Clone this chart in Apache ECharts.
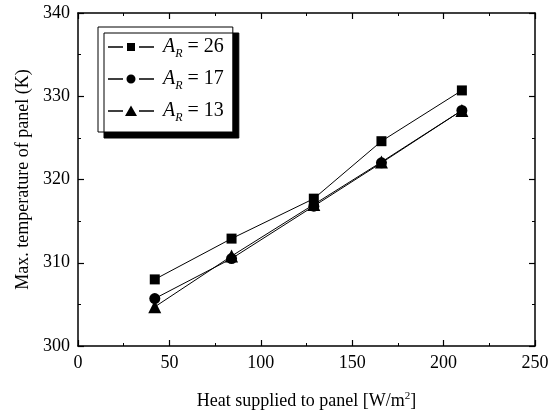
<!DOCTYPE html>
<html>
<head>
<meta charset="utf-8">
<script src="https://cdn.jsdelivr.net/npm/echarts@6/dist/echarts.min.js"></script>
<style>
  html, body { margin: 0; padding: 0; background: #fff; }
  #chart { width: 558px; height: 416px; }
</style>
</head>
<body>
<div id="chart"></div>
<script>
// heat supplied [W/m2]
const heat = [42, 84, 129, 166, 210];
// max. panel temperature [K] per aspect ratio
const tempAR26 = [308.0, 312.9, 317.7, 324.6, 330.7];
const tempAR17 = [305.7, 310.5, 316.8, 322.0, 328.3];
const tempAR13 = [304.7, 310.8, 317.0, 322.1, 328.3];
const seriesNames = ['26', '17', '13'];
const symbols = ['rect', 'circle', 'triangle'];
const symbolSizes = [10, 11, 13];

const chart = echarts.init(document.getElementById('chart'));
const font = 'Liberation Serif';

// legend icons: line - gap - marker - gap - line, in a 46x12 box
const iconLines = 'M0,0M46,12M0,5.3h15v1.4h-15zM31,5.3h15v1.4h-15z';
const legendIcons = [
    'path://' + iconLines + 'M19,2h8v8h-8z',
    'path://' + iconLines + 'M18.5,6a4.5,4.5 0 1,0 9,0a4.5,4.5 0 1,0 -9,0z',
    'path://' + iconLines + 'M23,0.5L29,11L17,11z'
];

function pairs(ys) {
    return heat.map((x, i) => [x, ys[i]]);
}

function axisStyle(showLabel) {
    return {
        axisLine: { show: true, onZero: false, lineStyle: { color: '#000', width: 1.5 } },
        axisTick: { show: true, inside: true, length: 6, lineStyle: { color: '#000', width: 1.2 } },
        minorTick: { show: true, splitNumber: 2, length: 3, lineStyle: { color: '#000', width: 1 } },
        splitLine: { show: false },
        axisLabel: { show: showLabel, color: '#000', fontFamily: font, fontSize: 18, margin: 8 }
    };
}

const allTemps = [tempAR26, tempAR17, tempAR13];

let option = {
    animation: false,
    backgroundColor: '#fff',
    grid: { left: 78, right: 23, top: 13, bottom: 70 },
    xAxis: [
        Object.assign({
            type: 'value', min: 0, max: 250, interval: 50, position: 'bottom',
            name: 'Heat supplied to panel [W/m{sup|2}]',
            nameLocation: 'middle', nameGap: 45,
            nameTextStyle: {
                color: '#000', fontFamily: font, fontSize: 18,
                rich: { sup: { fontFamily: font, fontSize: 11, color: '#000', padding: [0, 0, 10, 0] } }
            }
        }, axisStyle(true)),
        Object.assign({ type: 'value', min: 0, max: 250, interval: 50, position: 'top' }, axisStyle(false))
    ],
    yAxis: [
        Object.assign({
            type: 'value', min: 300, max: 340, interval: 10, position: 'left',
            name: 'Max. temperature of panel (K)',
            nameLocation: 'middle', nameGap: 46,
            nameTextStyle: { color: '#000', fontFamily: font, fontSize: 18 }
        }, axisStyle(true)),
        Object.assign({ type: 'value', min: 300, max: 340, interval: 10, position: 'right' }, axisStyle(false))
    ],
    legend: {
        orient: 'vertical',
        left: 98, top: 27,
        padding: [10, 9, 8, 10],
        itemGap: 9,
        itemWidth: 46,
        itemHeight: 12,
        backgroundColor: '#fff',
        borderColor: '#000',
        borderWidth: 1,
        shadowColor: '#000',
        shadowBlur: 0,
        shadowOffsetX: 6,
        shadowOffsetY: 6,
        data: seriesNames.map((n, i) => ({ name: 'AR' + n, icon: legendIcons[i] })),
        formatter: (name) => '{a|A}{s|R}{t| = ' + name.slice(2) + '}',
        textStyle: {
            color: '#000', fontFamily: font, fontSize: 19,
            rich: {
                a: { fontFamily: font, fontSize: 20, fontStyle: 'italic', color: '#000', lineHeight: 23, padding: [0, 0, 0, 4] },
                s: { fontFamily: font, fontSize: 12, fontStyle: 'italic', color: '#000', padding: [14, 0, 0, 0] },
                t: { fontFamily: font, fontSize: 20, color: '#000', lineHeight: 23 }
            }
        }
    },
    series: seriesNames.map((n, i) => ({
        name: 'AR' + n,
        type: 'line',
        data: pairs(allTemps[i]),
        symbol: symbols[i],
        symbolSize: symbolSizes[i],
        showAllSymbol: true,
        lineStyle: { color: '#000', width: 1 },
        itemStyle: { color: '#000' },
        z: 3 - i
    }))
};
chart.setOption(option);
</script>
</body>
</html>
